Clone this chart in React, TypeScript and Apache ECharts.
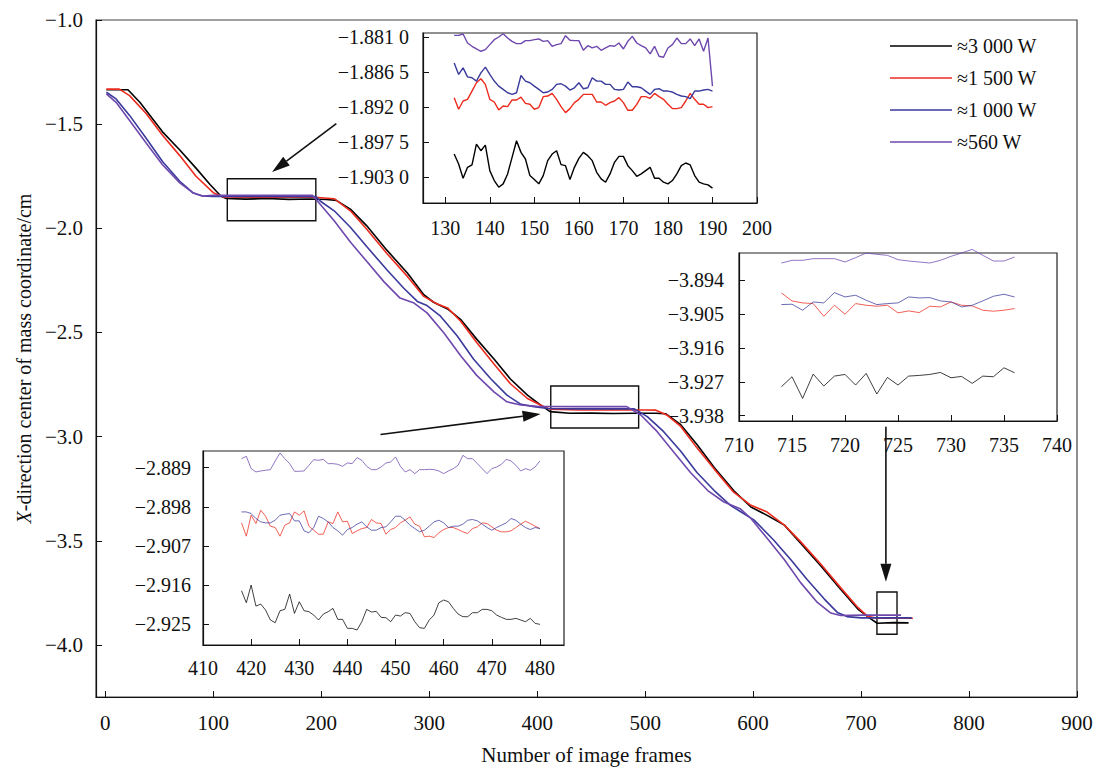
import React, { useEffect, useRef } from 'react';
import * as echarts from 'echarts';

const FONT = '"Liberation Serif", "Times New Roman", serif';

const seriesNames = ['≈3 000 W', '≈1 500 W', '≈1 000 W', '≈560 W'];
const seriesColors = ['#000000', '#ec2b1e', '#3a3a9c', '#6e48ad'];

const mainXTicks = [0, 100, 200, 300, 400, 500, 600, 700, 800, 900];
const mainYTicks = [-4.0, -3.5, -3.0, -2.5, -2.0, -1.5, -1.0];

// main curves: [frame, X coordinate]
const black3000Main = [
  [1, -1.335], [21, -1.335], [32, -1.395], [53, -1.537], [69, -1.624], [84, -1.711], [97, -1.79], [107, -1.845],
  [112, -1.857], [130, -1.86], [150, -1.857], [170, -1.861], [190, -1.859], [205, -1.862], [214, -1.866],
  [227, -1.908], [242, -1.987], [261, -2.106], [280, -2.216], [295, -2.319], [304, -2.355], [317, -2.387],
  [329, -2.437], [344, -2.532], [360, -2.627], [375, -2.722], [391, -2.801], [403, -2.848], [412, -2.88],
  [430, -2.888], [450, -2.887], [470, -2.889], [490, -2.888], [510, -2.888], [519, -2.89], [533, -2.943],
  [548, -3.038], [564, -3.148], [582, -3.259], [598, -3.338], [613, -3.378], [629, -3.425], [644, -3.512],
  [663, -3.622], [681, -3.733], [697, -3.828], [709, -3.875], [715, -3.896], [730, -3.893], [744, -3.894],
];
const red1500Main = [
  [1, -1.332], [13, -1.332], [22.5, -1.363], [38, -1.45], [53, -1.553], [69, -1.651], [84, -1.75], [100, -1.829],
  [109, -1.85], [130, -1.851], [160, -1.85], [195, -1.851], [200, -1.853], [212, -1.858], [227, -1.916],
  [242, -2.003], [261, -2.122], [280, -2.232], [295, -2.327], [307, -2.362], [317, -2.382], [329, -2.445],
  [344, -2.548], [360, -2.651], [375, -2.745], [391, -2.817], [403, -2.848], [412, -2.868], [440, -2.872],
  [470, -2.871], [500, -2.872], [510, -2.873], [520, -2.896], [533, -2.951], [548, -3.054], [564, -3.156],
  [582, -3.267], [598, -3.33], [613, -3.362], [629, -3.425], [644, -3.504], [663, -3.614], [681, -3.725],
  [697, -3.82], [706, -3.863], [715, -3.872], [748, -3.872],
];
const blue1000Main = [
  [1, -1.347], [10, -1.379], [22.5, -1.458], [38, -1.569], [53, -1.679], [69, -1.774], [81, -1.829], [90, -1.845],
  [100, -1.847], [150, -1.847], [195, -1.848], [199, -1.869], [212, -1.916], [227, -1.995], [242.5, -2.09],
  [261, -2.2], [276.5, -2.288], [289, -2.351], [298, -2.371], [310.5, -2.422], [326, -2.517], [341, -2.627],
  [357, -2.722], [372, -2.801], [385, -2.845], [397, -2.856], [410, -2.865], [440, -2.867], [470, -2.866],
  [490, -2.867], [502, -2.904], [517, -2.975], [533, -3.07], [548, -3.172], [564, -3.259], [579, -3.33],
  [589, -3.362], [601, -3.401], [619, -3.496], [635, -3.591], [650, -3.686], [666, -3.78], [678, -3.844],
  [687, -3.864], [700, -3.87], [747, -3.87],
];
const purple560Main = [
  [1, -1.355], [10, -1.395], [22.5, -1.482], [38, -1.592], [53, -1.695], [69, -1.782], [81, -1.829], [90, -1.845],
  [100, -1.842], [150, -1.841], [192, -1.842], [199, -1.885], [212, -1.964], [227, -2.066], [242.5, -2.161],
  [258, -2.256], [273, -2.335], [286, -2.359], [298, -2.406], [313.5, -2.501], [329, -2.611], [344, -2.706],
  [360, -2.785], [372, -2.833], [385, -2.848], [400, -2.855], [440, -2.856], [483, -2.856], [496, -2.896],
  [511, -2.975], [527, -3.077], [542, -3.172], [558, -3.259], [573, -3.314], [588, -3.346], [598, -3.393],
  [613, -3.488], [629, -3.591], [644, -3.701], [659.5, -3.796], [672, -3.847], [681, -3.859], [700, -3.857],
  [737, -3.857],
];

// inset 1: frames 132..190
const inset1Start = 132;
const inset1XTicks = [130, 140, 150, 160, 170, 180, 190, 200];
const inset1YTicks = [-1.903, -1.8975, -1.892, -1.8865, -1.881];
const inset1Black = [
  -1.8994, -1.90097, -1.90321, -1.90149, -1.90112, -1.89784, -1.89888, -1.89799, -1.90201, -1.90357,
  -1.90462, -1.90409, -1.90253, -1.89992, -1.89732, -1.89914, -1.90018, -1.90279, -1.90342, -1.90409,
  -1.90279, -1.90044, -1.8994, -1.89888, -1.90107, -1.90123, -1.90342, -1.90149, -1.90008, -1.89914,
  -1.89966, -1.90044, -1.90227, -1.90331, -1.90383, -1.90253, -1.90071, -1.89977, -1.89977, -1.90123,
  -1.90201, -1.9029, -1.90253, -1.90201, -1.90149, -1.90321, -1.90321, -1.90383, -1.90409, -1.90357,
  -1.90253, -1.90123, -1.90081, -1.90112, -1.90279, -1.90383, -1.90409, -1.90425, -1.90477,
];
const inset1Red = [
  -1.89054, -1.89236, -1.89106, -1.8908, -1.8895, -1.88819, -1.88757, -1.88845, -1.8908, -1.89122,
  -1.89247, -1.89184, -1.89195, -1.8909, -1.8909, -1.89044, -1.89143, -1.89158, -1.89236, -1.8921,
  -1.89038, -1.89028, -1.88986, -1.8908, -1.89195, -1.89289, -1.89226, -1.89132, -1.8908, -1.89002,
  -1.89002, -1.89002, -1.89122, -1.89122, -1.89174, -1.89132, -1.89106, -1.89054, -1.89132, -1.89252,
  -1.89252, -1.89158, -1.89038, -1.89038, -1.89064, -1.88986, -1.89038, -1.8908, -1.89158, -1.89226,
  -1.89226, -1.8921, -1.89106, -1.88986, -1.8908, -1.89158, -1.89158, -1.8921, -1.89195,
];
const inset1Blue = [
  -1.88507, -1.88689, -1.88585, -1.88726, -1.88741, -1.88793, -1.88663, -1.88574, -1.88689, -1.88793,
  -1.88872, -1.88924, -1.88976, -1.89002, -1.88976, -1.88705, -1.88793, -1.88819, -1.88872, -1.88924,
  -1.88976, -1.88965, -1.88924, -1.88845, -1.88835, -1.88872, -1.88934, -1.88898, -1.88819, -1.88913,
  -1.88898, -1.88741, -1.88793, -1.88793, -1.88845, -1.88845, -1.88924, -1.88934, -1.88924, -1.88809,
  -1.88882, -1.88882, -1.88898, -1.8895, -1.89002, -1.88924, -1.88913, -1.8895, -1.8895, -1.88965,
  -1.89002, -1.89028, -1.89038, -1.8907, -1.8895, -1.8895, -1.88934, -1.88924, -1.8895,
];
const inset1Purple = [
  -1.88074, -1.88074, -1.88053, -1.88194, -1.88246, -1.88288, -1.88324, -1.88298, -1.8822, -1.88142,
  -1.881, -1.88048, -1.88116, -1.88168, -1.88204, -1.88204, -1.88157, -1.88157, -1.88142, -1.88131,
  -1.88168, -1.88157, -1.88246, -1.8822, -1.88204, -1.88079, -1.88152, -1.88157, -1.88157, -1.88309,
  -1.88236, -1.88272, -1.88246, -1.88309, -1.88272, -1.88236, -1.88246, -1.88194, -1.88288, -1.88168,
  -1.8809, -1.88194, -1.88236, -1.88272, -1.88366, -1.88246, -1.88402, -1.88418, -1.88272, -1.8822,
  -1.88116, -1.88204, -1.88204, -1.88131, -1.88236, -1.88131, -1.88324, -1.88116, -1.88872,
];

// inset 2: frames 418..480
const inset2Start = 418;
const inset2XTicks = [410, 420, 430, 440, 450, 460, 470, 480];
const inset2YTicks = [-2.925, -2.916, -2.907, -2.898, -2.889];
const inset2Black = [
  -2.91728, -2.92003, -2.91598, -2.9208, -2.92034, -2.92171, -2.924, -2.92462, -2.92186, -2.92156,
  -2.91804, -2.92248, -2.9198, -2.92186, -2.92209, -2.92286, -2.924, -2.92263, -2.92209, -2.92133,
  -2.92385, -2.92385, -2.92592, -2.92592, -2.9263, -2.92439, -2.92156, -2.92217, -2.92202, -2.92339,
  -2.92347, -2.92439, -2.92286, -2.92309, -2.92232, -2.92248, -2.92439, -2.92576, -2.92592, -2.924,
  -2.92286, -2.92003, -2.91942, -2.9198, -2.92133, -2.92263, -2.92324, -2.92324, -2.92232, -2.92232,
  -2.92156, -2.92156, -2.92186, -2.92286, -2.92339, -2.92385, -2.92385, -2.92362, -2.924, -2.92439,
  -2.92362, -2.92477, -2.925,
];
const inset2Red = [
  -2.90169, -2.90474, -2.89993, -2.90184, -2.89878, -2.90016, -2.90245, -2.90276, -2.90474, -2.90222,
  -2.90169, -2.89917, -2.89993, -2.89894, -2.90245, -2.90337, -2.90429, -2.90429, -2.90146, -2.90184,
  -2.89917, -2.90146, -2.90131, -2.90413, -2.90352, -2.90299, -2.90276, -2.90092, -2.90169, -2.90184,
  -2.90429, -2.90322, -2.90276, -2.90169, -2.90108, -2.90031, -2.90199, -2.90245, -2.9049, -2.90474,
  -2.90505, -2.90398, -2.90322, -2.90276, -2.90276, -2.90322, -2.90375, -2.90413, -2.90299, -2.9026,
  -2.90169, -2.90184, -2.9026, -2.90337, -2.90375, -2.90375, -2.90352, -2.90276, -2.90199, -2.90131,
  -2.90184, -2.90245, -2.90299,
];
const inset2Blue = [
  -2.89917, -2.89917, -2.89955, -2.90069, -2.90146, -2.90169, -2.90169, -2.90108, -2.89993, -2.8997,
  -2.89955, -2.90123, -2.90123, -2.90352, -2.90398, -2.90276, -2.90016, -2.90069, -2.90146, -2.90276,
  -2.90352, -2.90452, -2.90322, -2.90276, -2.90199, -2.90146, -2.9026, -2.90337, -2.90337, -2.90276,
  -2.9026, -2.90146, -2.90016, -2.90016, -2.90108, -2.90222, -2.90299, -2.90375, -2.90337, -2.90245,
  -2.90146, -2.90108, -2.90169, -2.90276, -2.90245, -2.90245, -2.90199, -2.90108, -2.90092, -2.90123,
  -2.90199, -2.90276, -2.90337, -2.90276, -2.90222, -2.90169, -2.90069, -2.90108, -2.90199, -2.90276,
  -2.90322, -2.90276, -2.90299,
];
const inset2Purple = [
  -2.88694, -2.8864, -2.88923, -2.88999, -2.88976, -2.88961, -2.88946, -2.88747, -2.88564, -2.88694,
  -2.88808, -2.88984, -2.88984, -2.88976, -2.88847, -2.88717, -2.88732, -2.88709, -2.88808, -2.88808,
  -2.88824, -2.88869, -2.88793, -2.88808, -2.88671, -2.88732, -2.88869, -2.88946, -2.88946, -2.88885,
  -2.88793, -2.8877, -2.88655, -2.88869, -2.88999, -2.88946, -2.89038, -2.88946, -2.88946, -2.88938,
  -2.88946, -2.88976, -2.89038, -2.88976, -2.88923, -2.88847, -2.88617, -2.88694, -2.88694, -2.88808,
  -2.88923, -2.89038, -2.88923, -2.88885, -2.88824, -2.88709, -2.88747, -2.88847, -2.88976, -2.88923,
  -2.88961, -2.88885, -2.88747,
];

// inset 3: frames 714..736
const inset3Start = 714;
const inset3XTicks = [710, 715, 720, 725, 730, 735, 740];
const inset3YTicks = [-3.938, -3.927, -3.916, -3.905, -3.894];
const inset3Black = [
  -3.9286, -3.92535, -3.93238, -3.92449, -3.92838, -3.92514, -3.9246, -3.92805, -3.92427, -3.93097,
  -3.92557, -3.92805, -3.92514, -3.92492, -3.9246, -3.92395, -3.92568, -3.92524, -3.92751, -3.92514,
  -3.92535, -3.92243, -3.92405,
];
const inset3Red = [
  -3.89811, -3.9007, -3.90135, -3.90157, -3.90568, -3.90211, -3.90503, -3.90157, -3.90211, -3.90243,
  -3.90211, -3.90459, -3.90395, -3.90449, -3.90243, -3.90265, -3.90103, -3.90211, -3.90232, -3.90373,
  -3.90405, -3.90373, -3.90319,
];
const inset3Blue = [
  -3.90189, -3.90178, -3.90373, -3.90103, -3.90135, -3.898, -3.89941, -3.89886, -3.90049, -3.90189,
  -3.90157, -3.90135, -3.89941, -3.89973, -3.89962, -3.9007, -3.90103, -3.90265, -3.90211, -3.9007,
  -3.89919, -3.89854, -3.89941,
];
const inset3Purple = [
  -3.88838, -3.88751, -3.88751, -3.88697, -3.88697, -3.88697, -3.88805, -3.88665, -3.88514, -3.88557,
  -3.88589, -3.8873, -3.88773, -3.88805, -3.88838, -3.88751, -3.88622, -3.88514, -3.88395, -3.88589,
  -3.88773, -3.88773, -3.88643,
];

// zoom boxes on the main chart (frame range, value range)
const zoomBoxes = [
  [[113, -1.762], [195, -1.964]],
  [[412.6, -2.757], [494, -2.959]],
  [[714.7, -3.746], [733.3, -3.949]],
];
// arrows on the main chart (from, to) in data coordinates
const arrows = [
  [[214, -1.4976], [154.5, -1.73]],
  [[254.9, -2.99], [403.2, -2.891]],
  [[723, -2.953], [723, -3.697]],
];

const minus = (s: string) => s.replace('-', '\u2212');
const fmtMainY = (v: number) => minus(v.toFixed(1));
const fmtInset1Y = (v: number) => {
  const s = minus(v.toFixed(4));
  return s.slice(0, -1) + ' ' + s.slice(-1);
};
const fmt3 = (v: number) => minus(v.toFixed(3));

function makeAxes(gridIndex: number, xMin: number, xMax: number, xTicks: number[], yMin: number, yMax: number, yTicks: number[], yFmt: (v: number) => string, xMargin: number, yMargin: number, fontSize: number) {
  const labelStyle = { fontFamily: FONT, fontSize, color: '#111' };
  const x = {
    type: 'value', gridIndex, min: xMin, max: xMax,
    axisLine: { show: true, onZero: false, lineStyle: { color: '#111', width: 1.2 } },
    axisTick: { show: true, inside: true, length: 6, customValues: xTicks, lineStyle: { color: '#111' } },
    axisLabel: { ...labelStyle, margin: xMargin, customValues: xTicks, formatter: (v: number) => String(v) },
    splitLine: { show: false },
  };
  const y = {
    type: 'value', gridIndex, min: yMin, max: yMax,
    axisLine: { show: true, onZero: false, lineStyle: { color: '#111', width: 1.2 } },
    axisTick: { show: true, inside: true, length: 6, customValues: yTicks, lineStyle: { color: '#111' } },
    axisLabel: { ...labelStyle, margin: yMargin, customValues: yTicks, formatter: yFmt },
    splitLine: { show: false },
  };
  return { x, y };
}

function insetSeries(axisIndex: number, start: number, arrays: number[][], width: number, opacity: number, clip: boolean) {
  return arrays.map((arr, k) => ({
    type: 'line',
    name: seriesNames[k],
    xAxisIndex: axisIndex,
    yAxisIndex: axisIndex,
    data: arr.map((v, i) => [start + i, v]),
    symbol: 'none',
    clip,
    lineStyle: { color: seriesColors[k], width, opacity },
    itemStyle: { color: seriesColors[k] },
    z: 5,
  }));
}

export default function App() {
  const ref = useRef<HTMLDivElement>(null);
  useEffect(() => {
    if (!ref.current) return;
    const chart = echarts.init(ref.current, undefined, { renderer: 'svg' });

    const main = makeAxes(0, -8.6, 900, mainXTicks, -4.25, -1.0, mainYTicks, fmtMainY, 15, 13, 21);
    (main.x as any).name = 'Number of image frames';
    (main.x as any).nameLocation = 'middle';
    (main.x as any).nameGap = 47;
    (main.x as any).nameTextStyle = { fontFamily: FONT, fontSize: 21, color: '#111' };
    (main.y as any).name = '{i|X}-direction center of mass coordinate/cm';
    (main.y as any).nameLocation = 'middle';
    (main.y as any).nameRotate = 90;
    (main.y as any).nameGap = 62;
    (main.y as any).nameTextStyle = {
      fontFamily: FONT, fontSize: 20, color: '#111',
      rich: { i: { fontFamily: FONT, fontSize: 20, fontStyle: 'italic', color: '#111' } },
    };
    const a1 = makeAxes(1, 125, 200, inset1XTicks, -1.9071, -1.88037, inset1YTicks, fmtInset1Y, 15, 14, 20);
    const a2 = makeAxes(2, 410, 485, inset2XTicks, -2.92974, -2.88518, inset2YTicks, fmt3, 13, 12, 20);
    const a3 = makeAxes(3, 710, 740, inset3XTicks, -3.93973, -3.88513, inset3YTicks, fmt3, 14, 15, 20);

    const mainData = [black3000Main, red1500Main, blue1000Main, purple560Main];
    const mainSeries: any[] = mainData.map((d, k) => ({
      type: 'line',
      name: seriesNames[k],
      xAxisIndex: 0,
      yAxisIndex: 0,
      data: d,
      symbol: 'none',
      lineStyle: { color: seriesColors[k], width: 1.6 },
      itemStyle: { color: seriesColors[k] },
      z: 3,
    }));
    mainSeries[0].markArea = {
      silent: true,
      itemStyle: { color: 'rgba(0,0,0,0)', borderColor: '#111', borderWidth: 1.4 },
      data: zoomBoxes.map((b) => [{ coord: b[0] }, { coord: b[1] }]),
    };

    const gridBase = { show: true, borderColor: '#222', borderWidth: 1.2, backgroundColor: '#fff', containLabel: false };

    chart.setOption({
      animation: false,
      backgroundColor: '#fff',
      grid: [
        { ...gridBase, left: 96, top: 20, width: 981, height: 685, backgroundColor: 'transparent', borderColor: '#444' },
        { ...gridBase, left: 423, top: 33, width: 334, height: 170 },
        { ...gridBase, left: 203, top: 451, width: 361, height: 194 },
        { ...gridBase, left: 739, top: 253, width: 318, height: 168 },
      ],
      xAxis: [main.x, a1.x, a2.x, a3.x],
      yAxis: [main.y, a1.y, a2.y, a3.y],
      legend: {
        orient: 'vertical',
        left: 885,
        top: 31,
        icon: 'rect',
        itemWidth: 62,
        itemHeight: 1.6,
        itemGap: 12,
        data: seriesNames,
        textStyle: { fontFamily: FONT, fontSize: 20, color: '#111', lineHeight: 20 },
      },
      series: [
        ...mainSeries,
        ...insetSeries(1, inset1Start, [inset1Black, inset1Red, inset1Blue, inset1Purple], 1.4, 1, true),
        ...insetSeries(2, inset2Start, [inset2Black, inset2Red, inset2Blue, inset2Purple], 1, 0.75, true),
        ...insetSeries(3, inset3Start, [inset3Black, inset3Red, inset3Blue, inset3Purple], 1, 0.75, false),
      ],
    });

    const elements: any[] = [];
    arrows.forEach(([from, to]) => {
      const p0 = chart.convertToPixel({ gridIndex: 0 } as any, from) as number[];
      const p1 = chart.convertToPixel({ gridIndex: 0 } as any, to) as number[];
      const dx = p1[0] - p0[0];
      const dy = p1[1] - p0[1];
      const len = Math.sqrt(dx * dx + dy * dy);
      const ux = dx / len;
      const uy = dy / len;
      const hl = 18;
      const hw = 5.5;
      const bx = p1[0] - ux * hl;
      const by = p1[1] - uy * hl;
      elements.push({
        type: 'line', z: 10,
        shape: { x1: p0[0], y1: p0[1], x2: bx, y2: by },
        style: { stroke: '#111', lineWidth: 1.6 },
      });
      elements.push({
        type: 'polygon', z: 10,
        shape: { points: [[p1[0], p1[1]], [bx - uy * hw, by + ux * hw], [bx + uy * hw, by - ux * hw]] },
        style: { fill: '#111' },
      });
    });
    chart.setOption({ graphic: elements });

    return () => chart.dispose();
  }, []);
  return <div ref={ref} style={{ position: 'fixed', left: 0, top: 0, width: 1096, height: 770 }} />;
}
